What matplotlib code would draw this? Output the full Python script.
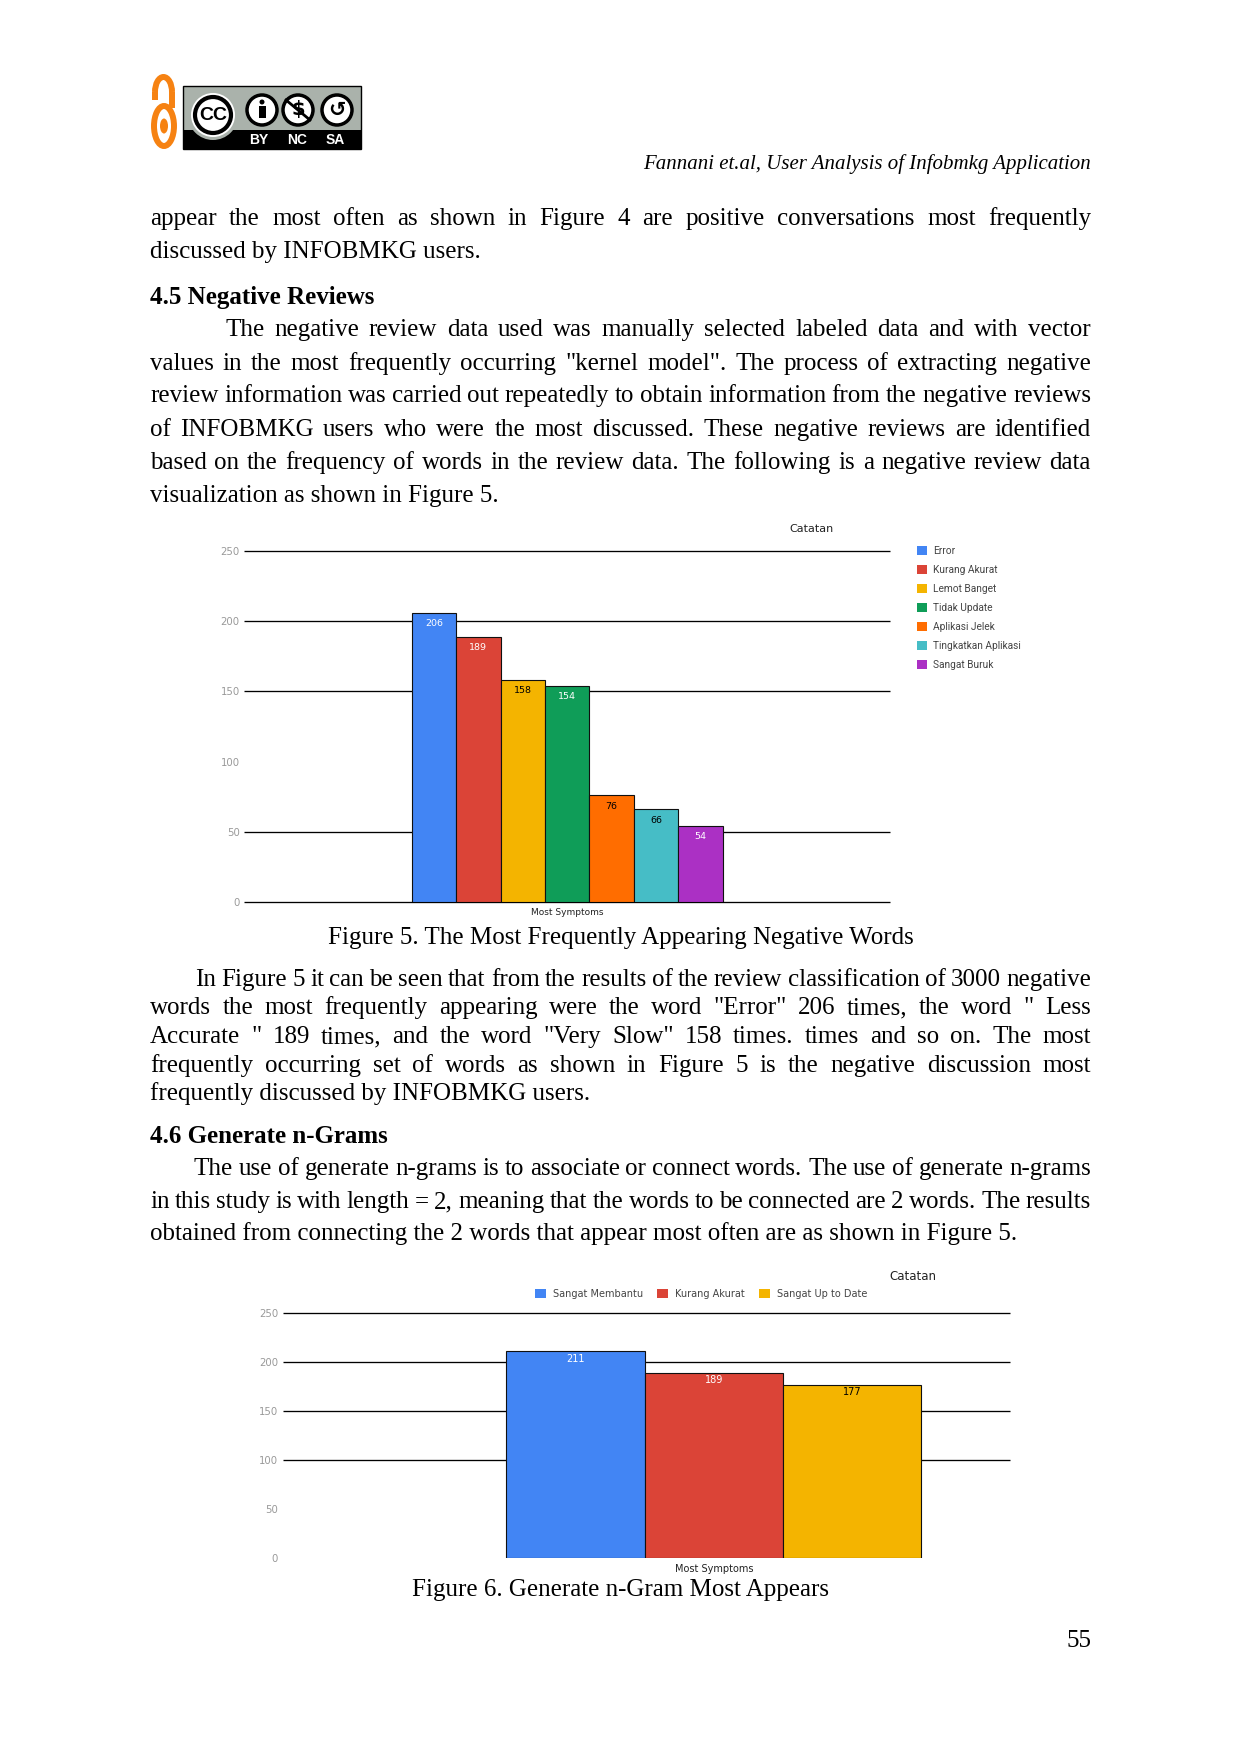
import matplotlib
matplotlib.use('Agg')
from matplotlib import pyplot as plt
from matplotlib.patches import Rectangle, Circle, Ellipse, Arc, Patch

W, H = 1240, 1754

# Figure 5 data
fig5_labels = ['Error', 'Kurang Akurat', 'Lemot Banget', 'Tidak Update', 'Aplikasi Jelek', 'Tingkatkan Aplikasi', 'Sangat Buruk']
fig5_values = [206, 189, 158, 154, 76, 66, 54]
fig5_colors = ['#4285F4', '#DB4437', '#F4B400', '#0F9D58', '#FF6D00', '#46BDC6', '#AB30C4']
fig5_text_colors = ['white', 'white', 'black', 'white', 'black', 'black', 'white']
fig5_grid = [0, 50, 150, 200, 250]

# Figure 6 data
fig6_labels = ['Sangat Membantu', 'Kurang Akurat', 'Sangat Up to Date']
fig6_values = [211, 189, 177]
fig6_colors = ['#4285F4', '#DB4437', '#F4B400']
fig6_text_colors = ['white', 'white', 'black']
fig6_grid = [100, 150, 200, 250]

yticks = [0, 50, 100, 150, 200, 250]

# (text, baseline y, left x, justified)
body_lines = [
    ('appear the most often as shown in Figure 4 are positive conversations most frequently', 225, 150, True),
    ('discussed by INFOBMKG users.', 258, 150, False),
    ('The negative review data used was manually selected labeled data and with vector', 336, 225, True),
    ('values in the most frequently occurring "kernel model". The process of extracting negative', 370, 150, True),
    ('review information was carried out repeatedly to obtain information from the negative reviews', 402, 150, True),
    ('of INFOBMKG users who were the most discussed. These negative reviews are identified', 436, 150, True),
    ('based on the frequency of words in the review data. The following is a negative review data', 469, 150, True),
    ('visualization as shown in Figure 5.', 502, 150, False),
    ('In Figure 5 it can be seen that from the results of the review classification of 3000 negative', 986, 195, True),
    ('words the most frequently appearing were the word "Error" 206 times, the word " Less', 1014, 150, True),
    ('Accurate " 189 times, and the word "Very Slow" 158 times. times and so on. The most', 1043, 150, True),
    ('frequently occurring set of words as shown in Figure 5 is the negative discussion most', 1072, 150, True),
    ('frequently discussed by INFOBMKG users.', 1100, 150, False),
    ('The use of generate n-grams is to associate or connect words. The use of generate n-grams', 1175, 194, True),
    ('in this study is with length = 2, meaning that the words to be connected are 2 words. The results', 1208, 150, True),
    ('obtained from connecting the 2 words that appear most often are as shown in Figure 5.', 1240, 150, False),
]
headings = [('4.5 Negative Reviews', 304, 150), ('4.6 Generate n-Grams', 1143, 150)]
captions = [('Figure 5. The Most Frequently Appearing Negative Words', 944), ('Figure 6. Generate n-Gram Most Appears', 1596)]

SERIF = 'Liberation Serif'
BODY = 18.0
RIGHT = 1091

fig = plt.figure(figsize=(W / 100, H / 100), dpi=100)
page = fig.add_axes([0, 0, 1, 1])
page.set_xlim(0, W)
page.set_ylim(H, 0)
page.axis('off')
renderer = fig.canvas.get_renderer()


def draw_line(text, y, x, justify):
    if not justify:
        page.text(x, y, text, family=SERIF, fontsize=BODY, va='baseline')
        return
    words = text.split()
    items = [page.text(0, y, w, family=SERIF, fontsize=BODY, va='baseline') for w in words]
    widths = [t.get_window_extent(renderer).width for t in items]
    gap = (RIGHT - x - sum(widths)) / (len(words) - 1)
    for t, w in zip(items, widths):
        t.set_x(x)
        x += w + gap


for line in body_lines:
    draw_line(*line)
for text, y, x in headings:
    page.text(x, y, text, family=SERIF, fontsize=BODY, fontweight='bold', va='baseline')
for text, y in captions:
    page.text(621, y, text, family=SERIF, fontsize=BODY, ha='center', va='baseline')
page.text(RIGHT, 169, 'Fannani et.al, User Analysis of Infobmkg Application', family=SERIF,
          fontsize=15.0, style='italic', ha='right', va='baseline')
page.text(RIGHT, 1647, '55', family=SERIF, fontsize=BODY, ha='right', va='baseline')

# open access mark
orange = '#F68212'
page.add_patch(Ellipse((164, 126), 20, 40, fc='white', ec=orange, lw=4.3))
page.add_patch(Ellipse((164, 126), 8, 15, fc=orange, ec='none'))
page.add_patch(Arc((163.5, 92), 17, 30, theta1=180, theta2=360, ec=orange, lw=4.3))
page.plot([155, 155], [92, 100], color=orange, lw=4.3, solid_capstyle='butt')
page.plot([172, 172], [92, 108], color=orange, lw=4.3, solid_capstyle='butt')

# cc badge
page.add_patch(Rectangle((183, 86), 178, 63, fc='#AAB2AB', ec='black', lw=1))
page.add_patch(Rectangle((183, 130), 178, 19, fc='black', ec='none'))
page.add_patch(Circle((213, 115), 25, fc='#AAB2AB', ec='none'))
page.add_patch(Circle((213, 115), 22, fc='white', ec='none'))
page.add_patch(Circle((213, 115), 18, fc='white', ec='black', lw=3))
page.text(213, 116, 'CC', fontsize=14, fontweight='bold', family='Liberation Sans', ha='center', va='center')
for cx in [262, 298, 337]:
    page.add_patch(Circle((cx, 110), 15, fc='white', ec='black', lw=2.5))
# person, dollar and share-alike glyphs
page.add_patch(Circle((262, 102), 2.5, fc='black', ec='none'))
page.add_patch(Rectangle((258.5, 106), 7, 12, fc='black', ec='none'))
page.text(298, 110, r'\$', fontsize=14, fontweight='bold', family='DejaVu Sans', ha='center', va='center')
page.plot([286, 310], [100, 120], color='black', lw=2)
page.text(337, 110, '\u21ba', fontsize=15, fontweight='bold', family='DejaVu Sans', ha='center', va='center')
for cx, lab in zip([259, 297, 335], ['BY', 'NC', 'SA']):
    page.text(cx, 140, lab, fontsize=10, fontweight='bold', color='white', family='Liberation Sans', ha='center', va='center')


def px_axes(left, top, right, bottom):
    return fig.add_axes([left / W, 1 - bottom / H, (right - left) / W, (bottom - top) / H])


def draw_chart(box, span, values, colors, text_colors, grid, label_pad, tick_pad, label_size, xlab_size):
    ax = px_axes(*box)
    ax.patch.set_alpha(0)
    x = [i - (len(values) - 1) / 2 for i in range(len(values))]
    ax.hlines(grid, span[0], span[1], color='black', lw=0.95, zorder=1, clip_on=False)
    bars = ax.bar(x, values, width=1, color=colors, edgecolor='#101010', lw=0.8, zorder=2)
    labels = ax.bar_label(bars, padding=label_pad, fontsize=label_size, family='DejaVu Sans')
    for t, c in zip(labels, text_colors):
        t.set_color(c)
    ax.set_xlim(*span)
    ax.set_ylim(0, 250)
    ax.set_yticks(yticks)
    ax.set_xticks([0])
    ax.set_xticklabels(['Most Symptoms'], fontsize=xlab_size, family='DejaVu Sans', color='#222222')
    ax.tick_params(axis='y', length=0, pad=tick_pad, labelsize=7.3, labelcolor='#999999')
    ax.tick_params(axis='x', length=0, pad=4)
    for s in ax.spines.values():
        s.set_visible(False)
    return ax


ax5 = draw_chart((244, 551, 890, 902), (-7.27, 7.26), fig5_values, fig5_colors, fig5_text_colors, fig5_grid, -11, 3, 6.8, 6.5)
ax6 = draw_chart((283, 1313, 1010, 1558), (-3.115, 2.14), fig6_values, fig6_colors, fig6_text_colors, fig6_grid, -9, 3.5, 7.0, 7.0)

page.text(811, 529, 'Catatan', fontsize=8, family='DejaVu Sans', ha='center', va='center', color='#222222')
page.text(913, 1277, 'Catatan', fontsize=8.5, family='DejaVu Sans', ha='center', va='center', color='#222222')

handles5 = [Patch(fc=c, ec='none') for c in fig5_colors]
page.legend(handles5, fig5_labels, loc='upper left', bbox_to_anchor=(917, 546), bbox_transform=page.transData,
            frameon=False, labelspacing=0.88, handlelength=0.99, handleheight=0.99,
            handletextpad=0.58, borderpad=0, borderaxespad=0, prop={'family': 'Roboto', 'size': 7.3}, labelcolor='#444444')

leg6 = fig.legend([Patch(fc=c, ec='none') for c in fig6_colors], fig6_labels, loc='upper left',
                  bbox_to_anchor=(535, 1289), bbox_transform=page.transData, ncol=3, frameon=False,
                  columnspacing=1.5, handlelength=1.12, handleheight=1.12, handletextpad=0.7, borderpad=0,
                  borderaxespad=0, prop={'family': 'DejaVu Sans', 'size': 7.0}, labelcolor='#444444')

fig.savefig('out.png', dpi=100)
